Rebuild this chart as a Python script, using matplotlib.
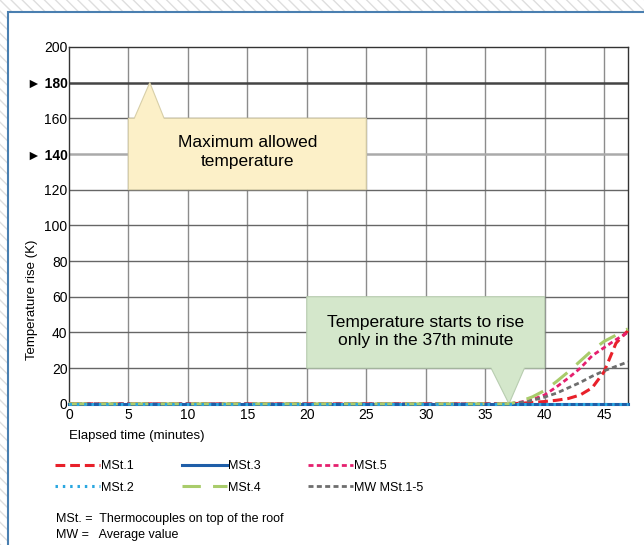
import matplotlib.pyplot as plt
from matplotlib.patches import Rectangle, Polygon

plt.rcParams['font.family'] = ['Liberation Sans', 'DejaVu Sans']
plt.rcParams['hatch.linewidth'] = 1.0

## data
minutes = [0, 36, 37, 38, 39, 40, 41, 42, 43, 44, 45, 46, 47]
mst1 = [0, 0, 0, 0.3, 0.8, 1.3, 2, 3, 5, 9, 18, 34, 41]
mst2 = [0, 0, 0, 0, 0, 0, 0, 0, 0, 0, 0, 0, 0]
mst3 = [0, 0, 0, 0, 0, 0, 0, 0, 0, 0, 0, 0, 0]
mst4 = [0, 0, 0, 1.5, 4, 7.5, 12.5, 18, 24, 30, 35, 38.5, 42]
mst5 = [0, 0, 0, 1, 2.5, 5, 9.5, 14.5, 20, 27, 31.5, 36, 40]
mw = [0, 0, 0, 0.8, 2, 3.8, 6, 9, 12, 15.5, 18.5, 21, 23.5]

y_ticks = [0, 20, 40, 60, 80, 100, 120, 140, 160, 180, 200]
y_labels = ["0", "20", "40", "60", "80", "100", "120", "\u25BA 140", "160", "\u25BA 180", "200"]
x_ticks = [0, 5, 10, 15, 20, 25, 30, 35, 40, 45]

fig = plt.figure(figsize=(6.44, 5.45), dpi=100)

## hatched background + white panel
fig.patches.append(Rectangle((0, 0), 1, 1, transform=fig.transFigure, facecolor='white',
                             edgecolor='#dedede', linewidth=0, hatch='\\\\\\', zorder=-10))
fig.patches.append(Rectangle((0.0125, -0.05), 1.1, 1.028, transform=fig.transFigure,
                             facecolor='white', edgecolor='#4a7fb0', linewidth=1.5, zorder=-9))

ax = fig.add_axes([0.107, 0.259, 0.868, 0.655])
ax.set_xlim(0, 47)
ax.set_ylim(0, 200)
ax.set_xticks(x_ticks)
ax.set_yticks(y_ticks)
ax.set_yticklabels(y_labels)
for lbl in ax.get_yticklabels():
    if "\u25BA" in lbl.get_text():
        lbl.set_fontweight('bold')
ax.tick_params(length=0, labelsize=10, pad=1)
ax.tick_params(axis='x', pad=3)
for s in ax.spines.values():
    s.set_color('#333333')
    s.set_linewidth(1.0)

## grid
for x in x_ticks[1:]:
    ax.axvline(x, color='#8c8c8c', lw=1.0, zorder=0)
for y in y_ticks[1:-1]:
    if y == 180:
        ax.axhline(y, color='#444444', lw=1.8, zorder=0)
    elif y == 140:
        ax.axhline(y, color='#aaaaaa', lw=1.8, zorder=0)
    else:
        ax.axhline(y, color='#666666', lw=1.0, zorder=0)

## callouts
ax.add_patch(Polygon([(5, 120), (25, 120), (25, 160), (8, 160), (6.8, 180), (5.5, 160), (5, 160)],
                     closed=True, facecolor='#fcf0c8', edgecolor='#d8cfa8', lw=0.8, zorder=2))
ax.text(15, 141, "Maximum allowed\ntemperature", ha='center', va='center', fontsize=12.5,
        linespacing=1.3, zorder=3)
ax.add_patch(Polygon([(20, 20), (35.5, 20), (37, 0), (38.3, 20), (40, 20), (40, 60), (20, 60)],
                     closed=True, facecolor='#d4e7cb', edgecolor='#b8cdb0', lw=0.8, zorder=2))
ax.text(30, 40.5, "Temperature starts to rise\nonly in the 37th minute", ha='center', va='center',
        fontsize=12.5, linespacing=1.3, zorder=3)

## series (red/pink/grey under green and dotted blue along the zero line)
l1, = ax.plot(minutes, mst1, color='#e8202a', lw=2.2, dashes=(3.2, 1.6), zorder=4, clip_on=False)
l5, = ax.plot(minutes, mst5, color='#e5206e', lw=2.0, dashes=(1.8, 1.2), zorder=4, clip_on=False)
lmw, = ax.plot(minutes, mw, color='#6e6e6e', lw=2.0, dashes=(1.8, 1.2), zorder=4, clip_on=False)
l3, = ax.plot(minutes, mst3, color='#1f5ea8', lw=2.2, zorder=5, clip_on=False)
l4, = ax.plot(minutes, mst4, color='#a9cc6b', lw=2.2, dashes=(6, 4), zorder=5, clip_on=False)
l2, = ax.plot(minutes, mst2, color='#2aa7e0', lw=2.2, dashes=(0.8, 1.6), zorder=6, clip_on=False)

fig.text(0.107, 0.2, "Elapsed time (minutes)", fontsize=9.5, ha='left', va='center')
fig.text(0.05, 0.45, "Temperature rise (K)", fontsize=9.5, rotation=90, ha='center', va='center')

leg = fig.legend([l1, l2, l3, l4, l5, lmw],
                 ["MSt.1", "MSt.2", "MSt.3", "MSt.4", "MSt.5", "MW MSt.1-5"],
                 loc='upper left', bbox_to_anchor=(0.068, 0.176), ncol=3, frameon=False,
                 fontsize=9, handlelength=3.6, handletextpad=0.1, columnspacing=3.8,
                 labelspacing=0.75)

fig.text(0.087, 0.048, "MSt. =  Thermocouples on top of the roof", fontsize=9, va='center')
fig.text(0.087, 0.018, "MW =   Average value", fontsize=9, va='center')

fig.savefig("out.png", dpi=100)
